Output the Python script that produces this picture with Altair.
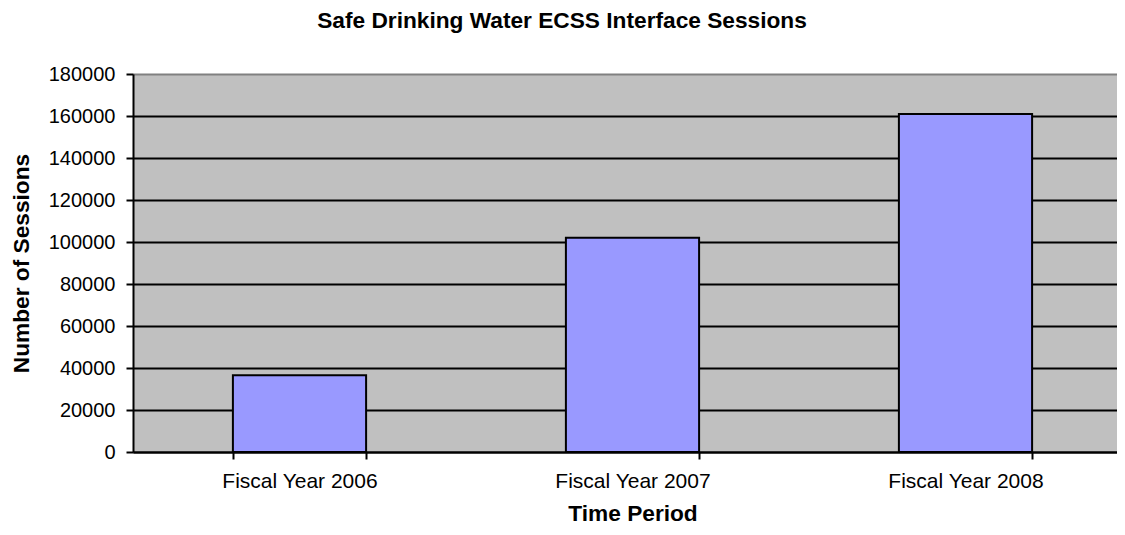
import altair as alt
import pandas as pd

categories = ["Fiscal Year 2006", "Fiscal Year 2007", "Fiscal Year 2008"]
sessions = [36500, 102000, 161000]
y_ticks = [0, 20000, 40000, 60000, 80000, 100000, 120000, 140000, 160000, 180000]
title_text = ["Safe Drinking Water ECSS Interface Sessions"]

df = pd.DataFrame({"period": categories, "sessions": sessions})
tdf = pd.DataFrame({"t": title_text})

FONT = "Liberation Sans"

bars = alt.Chart(df).mark_bar(
    fill="#9999ff", stroke="black", strokeWidth=2
).encode(
    x=alt.X(
        "period:N",
        sort=categories,
        scale=alt.Scale(range=[0, 999], paddingInner=0.6, paddingOuter=0.3),
        axis=alt.Axis(
            title="Time Period",
            labelAngle=0,
            labelFont=FONT, labelFontSize=21, labelColor="black",
            labelPadding=11,
            tickBand="extent", tickSize=7, tickColor="black", tickWidth=2,
            domainColor="black", domainWidth=2,
            titleFont=FONT, titleFontSize=22.7, titleFontWeight="bold", titleColor="black",
            titleBaseline="alphabetic", titleY=68,
            grid=False,
        ),
    ),
    y=alt.Y(
        "sessions:Q",
        scale=alt.Scale(domain=[0, 180000], nice=False),
        axis=alt.Axis(
            title="Number of Sessions",
            values=y_ticks,
            format="d",
            labelFont=FONT, labelFontSize=20, labelColor="black",
            labelPadding=11,
            tickSize=7, tickColor="black", tickWidth=2,
            domainColor="black", domainWidth=2,
            grid=True,
            gridColor=alt.expr("datum.value >= 180000 ? '#808080' : 'black'"),
            gridWidth=2, gridOpacity=1,
            titleFont=FONT, titleFontSize=22.7, titleFontWeight="bold", titleColor="black",
            titleAngle=-90, titleBaseline="bottom", titleAlign="center",
            titleX=-100, titleY=189,
        ),
    ),
)

title = alt.Chart(tdf).mark_text(
    font=FONT, fontSize=22.7, fontWeight="bold", color="black",
    align="center", baseline="alphabetic",
).encode(
    text="t:N",
    x=alt.value(429),
    y=alt.value(-46),
)

chart = alt.layer(bars, title).properties(
    width=984,
    height=378,
    autosize=alt.AutoSizeParams(type="none"),
    padding={"left": 125, "top": 66, "right": 0, "bottom": 75},
    view=alt.ViewConfig(fill="#c0c0c0", stroke=None),
)

chart.save("out.html", embed_options={"renderer": "svg", "actions": False})
